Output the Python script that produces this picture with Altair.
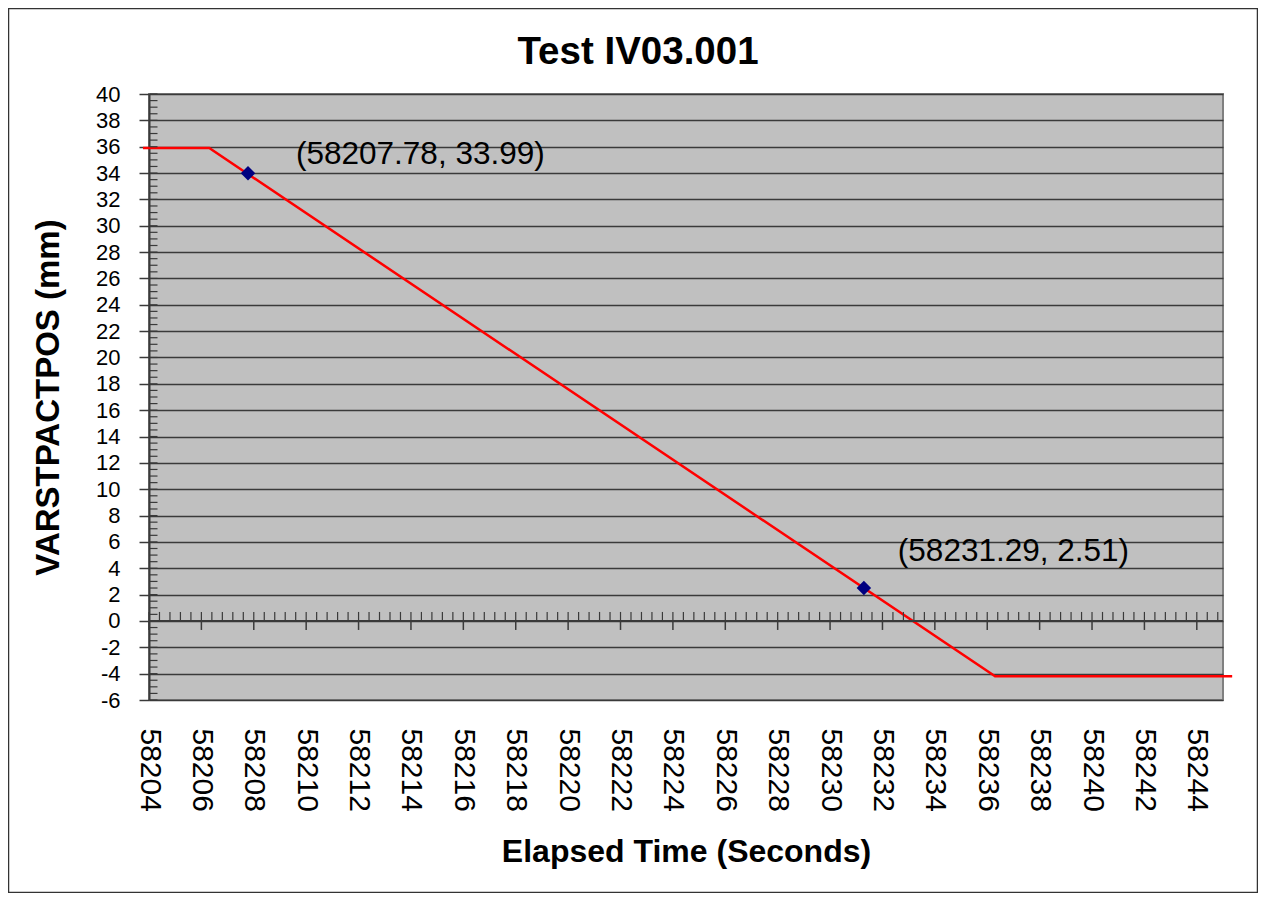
import altair as alt
import pandas as pd

# ---- data ----
trace_time = [58203.77, 58206.30, 58236.30, 58245.35]
trace_pos = [35.9, 35.9, -4.2, -4.2]

marker_time = [58207.78, 58231.29]
marker_pos = [33.99, 2.51]
marker_label = ["(58207.78, 33.99)", "(58231.29, 2.51)"]

x_ticks = list(range(58204, 58245, 2))
y_ticks = list(range(-6, 41, 2))
x_minor = [round(58204 + 0.4 * i, 2) for i in range(0, 103)]
y_minor = [-6 + 0.5 * i for i in range(0, 93)]

FONT = "Liberation Sans"
GRID = "#3a3a3a"

xs = alt.Scale(domain=[58204, 58245], nice=False, zero=False)
ys = alt.Scale(domain=[-6, 40], nice=False, zero=False)

trace_df = pd.DataFrame({"t": trace_time, "v": trace_pos})
marker_df = pd.DataFrame({"t": marker_time, "v": marker_pos, "label": marker_label})
xminor_df = pd.DataFrame({"t": x_minor})
xmajor_df = pd.DataFrame({"t": x_ticks})
yminor_df = pd.DataFrame({"v": y_minor})

x_axis = alt.Axis(
    values=x_ticks, format="d", labelAngle=90, labelAlign="left", labelBaseline="middle",
    labelFont=FONT, labelFontSize=30, labelColor="black", labelPadding=28,
    ticks=False, tickSize=0, domain=False, grid=False, labelOverlap=False, labelFlush=False,
    title="Elapsed Time (Seconds)", titleFont=FONT, titleFontSize=32, titleFontWeight="bold",
    titleColor="black", titleY=151, titleBaseline="middle",
)
y_axis = alt.Axis(
    values=y_ticks, labelFont=FONT, labelFontSize=22, labelColor="black", labelPadding=19,
    labelExpr="replace(datum.label, '\u2212', '-')",
    tickSize=10, tickColor=GRID, tickWidth=1.5, grid=True, gridColor=GRID, gridWidth=1.5,
    domain=True, domainColor=GRID, domainWidth=2, labelOverlap=False, labelFlush=False,
    title="VARSTPACTPOS (mm)", titleFont=FONT, titleFontSize=33, titleFontWeight="bold",
    titleColor="black", titleX=-101, titleY=303, titleAngle=-90, titleAlign="center",
    titleBaseline="middle",
)

X = alt.X("t:Q", scale=xs, axis=x_axis, title="Elapsed Time (Seconds)")
Y = alt.Y("v:Q", scale=ys, axis=y_axis, title="VARSTPACTPOS (mm)")
Y0 = alt.YDatum(0, scale=ys, axis=y_axis, title="VARSTPACTPOS (mm)")

line = alt.Chart(trace_df).mark_line(color="#FF0000", strokeWidth=2.5).encode(x=X, y=Y)

zero_line = alt.Chart(trace_df).mark_rule(color=GRID, strokeWidth=1.5).encode(y=Y0)

x_major_ticks = alt.Chart(xmajor_df).mark_tick(
    orient="vertical", size=9, thickness=1.5, yOffset=4.5, color=GRID, opacity=1
).encode(x=X, y=Y0)

x_minor_ticks = alt.Chart(xminor_df).mark_tick(
    orient="vertical", size=9, thickness=1.2, yOffset=-4.5, color=GRID, opacity=1
).encode(x=X, y=Y0)

y_minor_ticks = alt.Chart(yminor_df).mark_tick(
    orient="horizontal", size=8, thickness=1.2, color=GRID, opacity=1
).encode(y=Y, x=alt.value(4.5))

markers = alt.Chart(marker_df).mark_point(
    shape="diamond", filled=True, size=210, color="#000080", opacity=1
).encode(x=X, y=Y)

label1 = alt.Chart(marker_df.iloc[[0]]).mark_text(
    align="left", baseline="middle", dx=48, dy=-18, font=FONT, fontSize=31.5, color="black"
).encode(x=X, y=Y, text="label:N")

label2 = alt.Chart(marker_df.iloc[[1]]).mark_text(
    align="left", baseline="middle", dx=34, dy=-36, font=FONT, fontSize=31.5, color="black"
).encode(x=X, y=Y, text="label:N")

frame = alt.Chart(pd.DataFrame({"a": [0]})).mark_rect(
    fillOpacity=0, stroke="#333333", strokeWidth=1.5
).encode(x=alt.value(-140.5), x2=alt.value(1108.5), y=alt.value(-85.5), y2=alt.value(798.5))

chart = alt.layer(
    line, zero_line, x_major_ticks, x_minor_ticks, y_minor_ticks, markers, label1, label2, frame
).properties(
    width=1074, height=606,
    background="white",
    autosize=alt.AutoSizeParams(type="none"),
    padding={"left": 141, "top": 86, "right": 35, "bottom": 193},
    title=alt.TitleParams(
        "Test IV03.001", font=FONT, fontSize=38.5, fontWeight="bold", color="black",
        anchor="middle", frame="group", dx=-48, offset=21, dy=86,
    ),
).configure_view(
    fill="#C0C0C0", stroke="#808080", strokeWidth=2
)

chart.save("out.html", embed_options={"renderer": "svg", "actions": False})
